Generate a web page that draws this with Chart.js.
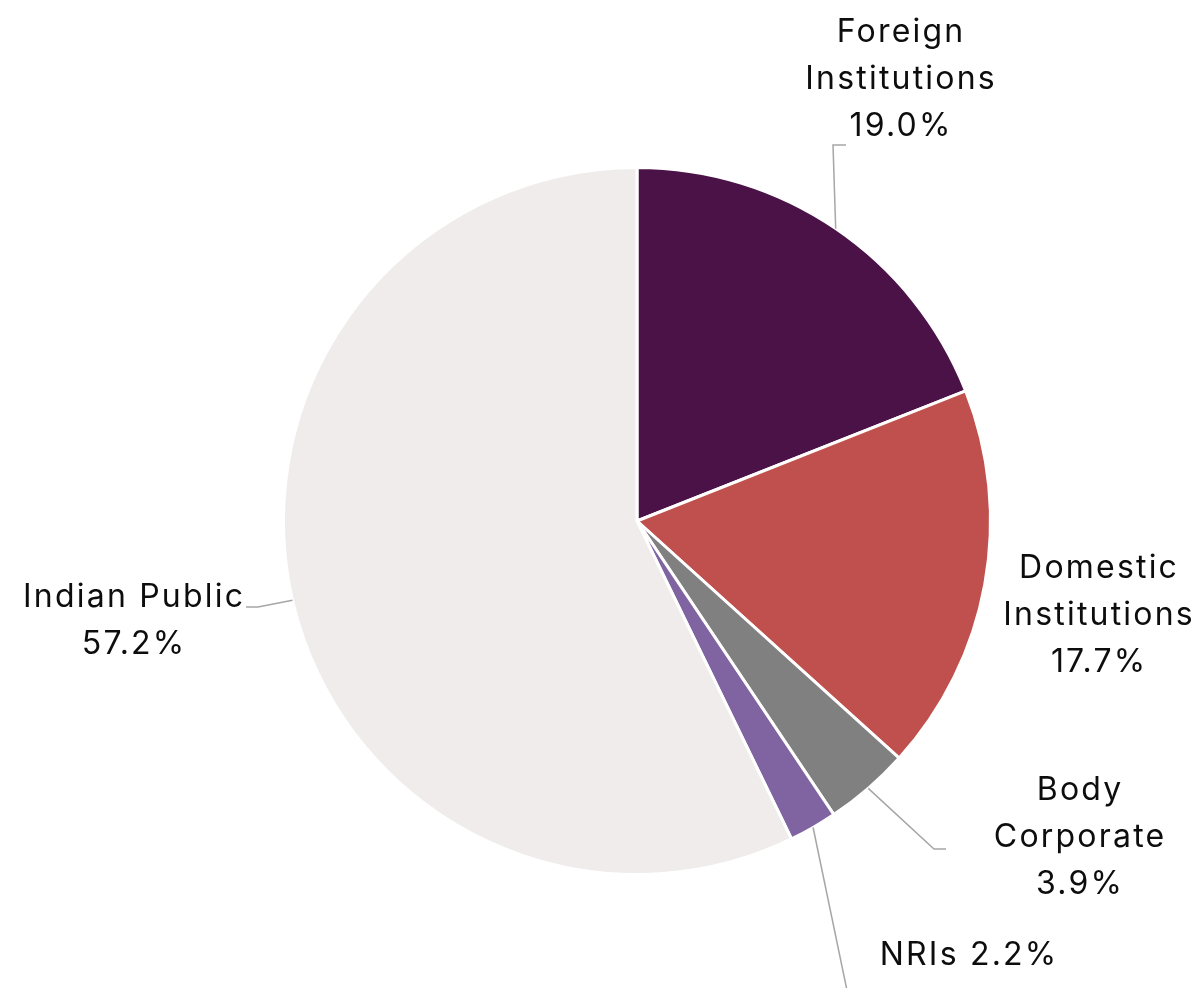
<!DOCTYPE html>
<html>
<head>
<meta charset="utf-8">
<title>Shareholding Pattern</title>
<script src="https://cdn.jsdelivr.net/npm/chart.js@4.4.1/dist/chart.umd.min.js"></script>
<style>
  html, body { margin: 0; padding: 0; background: #ffffff; }
  #wrap { width: 1194px; height: 988px; position: relative; }
</style>
</head>
<body>
<div id="wrap">
  <canvas id="pie" width="1194" height="988"></canvas>
</div>
<script>
// shareholding split, clockwise from 12 o'clock
const categories = ['Foreign Institutions', 'Domestic Institutions', 'Body Corporate', 'NRIs', 'Indian Public'];
const shares = [19.0, 17.7, 3.9, 2.2, 57.2];
const sliceColors = ['#4B1248', '#C0504D', '#808080', '#8064A2', '#F0ECEC'];

// label text lines per slice ({v} is replaced by the value)
const labelLines = [
  ['Foreign', 'Institutions', '{v}'],
  ['Domestic', 'Institutions', '{v}'],
  ['Body', 'Corporate', '{v}'],
  ['NRIs {v}'],
  ['Indian Public', '{v}']
];

// label placement relative to the pie centre: text centre of first line, then leader bends
const labelPlace = [
  { text: [263, -489], leader: [[196, -376], [209, -376]] },
  { text: [461, 47], leader: null },
  { text: [442, 269], leader: [[297, 328], [309, 328]] },
  { text: [331, 434], leader: [[212, 479]] },
  { text: [-504, 76], leader: [[-379, 86], [-391, 86]] }
];

const FONT = '32px Inter, "DejaVu Sans", sans-serif';
const SPACING = 2.2;
const LINE_H = 47;

const pieLabels = {
  id: 'pieLabels',
  afterDatasetsDraw(chart) {
    const ctx = chart.ctx;
    const meta = chart.getDatasetMeta(0);
    ctx.save();
    meta.data.forEach((arc, i) => {
      const p = arc.getProps(['x', 'y', 'startAngle', 'endAngle', 'outerRadius'], true);
      const mid = (p.startAngle + p.endAngle) / 2;
      const place = labelPlace[i];
      if (place.leader) {
        ctx.beginPath();
        ctx.strokeStyle = '#A6A6A6';
        ctx.lineWidth = 1.5;
        ctx.moveTo(p.x + Math.cos(mid) * p.outerRadius, p.y + Math.sin(mid) * p.outerRadius);
        place.leader.forEach(pt => ctx.lineTo(p.x + pt[0], p.y + pt[1]));
        ctx.stroke();
      }
      ctx.fillStyle = '#0d0d0d';
      ctx.font = FONT;
      ctx.letterSpacing = SPACING + 'px';
      ctx.textAlign = 'center';
      ctx.textBaseline = 'middle';
      const val = shares[i].toFixed(1) + '%';
      labelLines[i].forEach((line, k) => {
        ctx.fillText(line.replace('{v}', val), p.x + place.text[0] + SPACING / 2, p.y + place.text[1] + k * LINE_H);
      });
    });
    ctx.restore();
  }
};

new Chart(document.getElementById('pie').getContext('2d'), {
  type: 'pie',
  data: {
    labels: categories,
    datasets: [{
      data: shares,
      backgroundColor: sliceColors,
      borderColor: '#ffffff',
      borderWidth: 3
    }]
  },
  options: {
    responsive: false,
    animation: false,
    layout: { padding: { left: 282, right: 202, top: 166, bottom: 112 } },
    plugins: {
      legend: { display: false },
      tooltip: { enabled: false }
    }
  },
  plugins: [pieLabels]
});
</script>
</body>
</html>
